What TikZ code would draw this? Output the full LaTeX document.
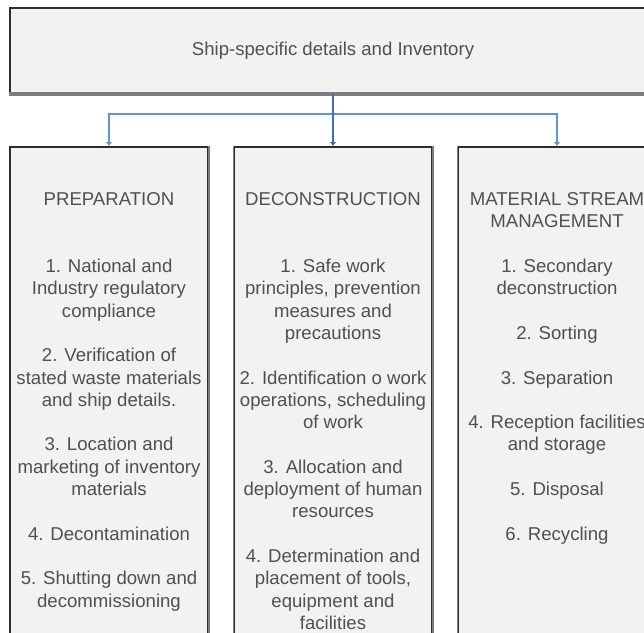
\documentclass[tikz,border=0pt]{standalone}
\usepackage{fontspec}
\setmainfont{Liberation Sans}
\usepackage{xcolor}
\usepackage{tikz}
\usetikzlibrary{positioning,arrows.meta,calc}
\definecolor{panelfill}{RGB}{242,242,242}
\definecolor{paneledge}{RGB}{45,45,45}
\definecolor{panelshade}{RGB}{125,125,125}
\definecolor{inktext}{RGB}{80,80,80}
\definecolor{linkblue}{RGB}{60,108,200}
\definecolor{linksky}{RGB}{95,150,210}
\tikzset{
  panel/.style    = {draw=paneledge, fill=panelfill, line width=1.5pt, inner sep=0pt},
  toppanel/.style = {panel, minimum width=646pt, minimum height=85pt, text=inktext, font=\fontsize{18.6}{22.3}\selectfont},
  colpanel/.style = {panel, minimum width=198pt, minimum height=520pt},
  coltext/.style  = {align=center, text=inktext, inner sep=0pt, font=\fontsize{18.6}{22.3}\selectfont},
  link/.style     = {-{Latex[length=4pt,width=7pt]}, line width=2pt, draw=linkblue},
  branch/.style   = {link, draw=linksky},
  shade/.style    = {draw=panelshade, line width=#1},
}
\begin{document}
\begin{tikzpicture}[x=1pt,y=1pt]
  \useasboundingbox (0,0) rectangle (644,-632);
  \node[toppanel] (inv) at (333,-50.5) {Ship-specific details and Inventory};
  \draw[shade=3.5pt] (inv.south west) -- (inv.south east);
  \node[colpanel, anchor=north] (prep) at (109,-146) {};
  \node[colpanel, right=24.5pt of prep] (decon) {};
  \node[colpanel, right=24.5pt of decon] (msm) {};
  \draw[shade=1.5pt] (prep.north east) -- (prep.south east);
  \draw[shade=1.5pt] (decon.north west) -- (decon.south west);
  \draw[shade=1.5pt] (decon.north east) -- (decon.south east);
  \draw[shade=1.5pt] (msm.north west) -- (msm.south west);
  \node[coltext, below=46.5pt of prep.north] (preptext) {PREPARATION\\[44.6pt]
    1. National and\\ Industry regulatory\\ compliance\\[22.3pt]
    2. Verification of\\ stated waste materials\\ and ship details.\\[22.3pt]
    3. Location and\\ marketing of inventory\\ materials\\[22.3pt]
    4. Decontamination\\[22.3pt]
    5. Shutting down and\\ decommissioning};
  \node[coltext, below=46.5pt of decon.north] (decontext) {DECONSTRUCTION\\[44.6pt]
    1. Safe work\\ principles, prevention\\ measures and\\ precautions\\[22.3pt]
    2. Identification o work\\ operations, scheduling\\ of work\\[22.3pt]
    3. Allocation and\\ deployment of human\\ resources\\[22.3pt]
    4. Determination and\\ placement of tools,\\ equipment and\\ facilities};
  \node[coltext, below=46.5pt of msm.north] (msmtext) {MATERIAL STREAM\\ MANAGEMENT\\[22.3pt]
    1. Secondary\\ deconstruction\\[22.3pt]
    2. Sorting\\[22.3pt]
    3. Separation\\[22.3pt]
    4. Reception facilities\\ and storage\\[22.3pt]
    5. Disposal\\[22.3pt]
    6. Recycling};
  \draw[branch] (inv.south) -- ++(0,-20) -| (prep.north);
  \draw[branch] (inv.south) -- ++(0,-20) -| (msm.north);
  \draw[link] (inv.south) -- (decon.north);
\end{tikzpicture}
\end{document}
